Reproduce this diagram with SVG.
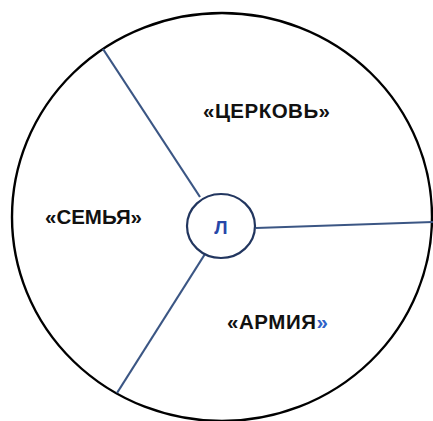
<svg xmlns="http://www.w3.org/2000/svg" width="433" height="421" viewBox="0 0 433 421">
<style>
.lbl{font-family:"Liberation Sans",Arial,sans-serif;font-weight:bold;font-size:20.5px;fill:#111}
.spoke{stroke:#3b5684;stroke-width:2.2;fill:none}
</style>
<rect width="433" height="421" fill="#fff"/>
<g id="outer"><ellipse cx="222" cy="217" rx="210" ry="204" fill="none" stroke="#000" stroke-width="2.4"/></g>
<g id="connectors">
<line class="spoke" x1="103" y1="49" x2="200" y2="197"/>
<line class="spoke" x1="256" y1="228" x2="433" y2="222"/>
<line class="spoke" x1="205" y1="254" x2="117" y2="393"/>
</g>
<g id="center"><ellipse cx="221" cy="226" rx="34" ry="32" fill="#fff" stroke="#22365f" stroke-width="2.2"/>
<text x="221" y="234" text-anchor="middle" class="lbl" style="fill:#2747a8;font-size:19px">Л</text></g>
<g id="church"><text x="203" y="118" textLength="127" lengthAdjust="spacing" class="lbl">«ЦЕРКОВЬ»</text></g>
<g id="family"><text x="45" y="224" textLength="97" lengthAdjust="spacing" class="lbl">«СЕМЬЯ»</text></g>
<g id="army"><text x="227" y="329" textLength="101" lengthAdjust="spacing" class="lbl">«АРМИЯ<tspan style="fill:#2f62c8">»</tspan></text></g>
</svg>
